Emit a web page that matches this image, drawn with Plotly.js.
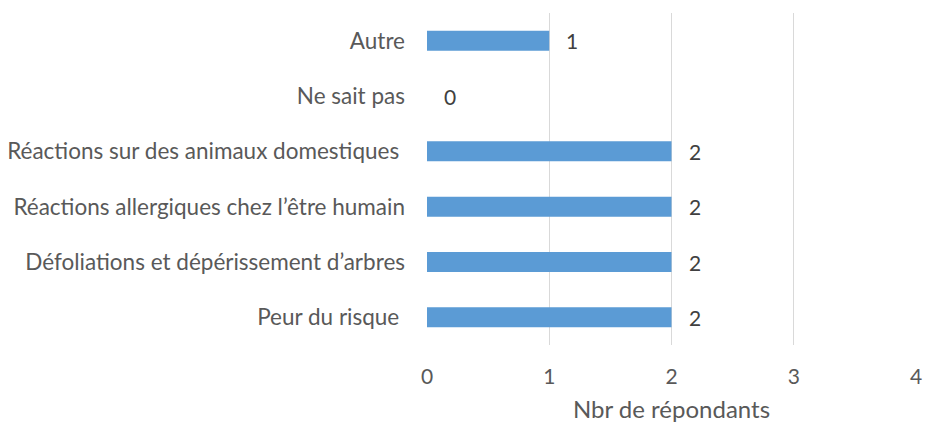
<!DOCTYPE html>
<html><head><meta charset="utf-8">
<script src="https://cdn.plot.ly/plotly-3.0.1.min.js"></script>
<style>html,body{margin:0;padding:0;background:#fff}#chart{width:925px;height:428px}</style>
</head><body><div id="chart"></div>
<script>
const categories = ["Peur du risque\u00a0", "Défoliations et dépérissement d\u2019arbres", "Réactions allergiques chez l\u2019être humain", "Réactions sur des animaux domestiques\u00a0", "Ne sait pas", "Autre"];
const values = [2, 2, 2, 2, 0, 1];
const xTicks = [0, 1, 2, 3, 4];
const FONT = "Lato, sans-serif";

const trace = {
  type: "bar", orientation: "h",
  x: values, y: categories,
  marker: {color: "#5B9BD5"},
  hoverinfo: "none"
};
const annotations = values.map((v, i) => ({
  x: v, y: categories[i], xref: "x", yref: "y",
  text: String(v), showarrow: false, xanchor: "left", xshift: 15,
  font: {family: FONT, size: 21, color: "#404040"}
}));
const layout = {
  width: 925, height: 428,
  margin: {l: 427, r: 9, t: 13, b: 83},
  paper_bgcolor: "#fff", plot_bgcolor: "#fff",
  bargap: 0.64,
  showlegend: false,
  font: {family: FONT, size: 22, color: "#595959"},
  xaxis: {
    range: [0, 4], tickvals: xTicks, ticktext: xTicks.map(String),
    showgrid: true, gridcolor: "#D9D9D9", gridwidth: 1,
    zeroline: false, showline: false, ticks: "", ticklen: 0,
    ticklabelstandoff: 17,
    tickfont: {family: FONT, size: 21, color: "#595959"},
    title: {text: "Nbr de répondants", font: {family: FONT, size: 24, color: "#595959"}, standoff: 14},
    automargin: false
  },
  yaxis: {
    type: "category", categoryorder: "array", categoryarray: categories,
    showgrid: false, zeroline: false, showline: false, ticks: "",
    ticklabelstandoff: 21,
    tickfont: {family: FONT, size: 22.5, color: "#595959"},
    automargin: false
  },
  annotations: annotations
};
Plotly.newPlot("chart", [trace], layout, {displayModeBar: false, staticPlot: true});
</script></body></html>
